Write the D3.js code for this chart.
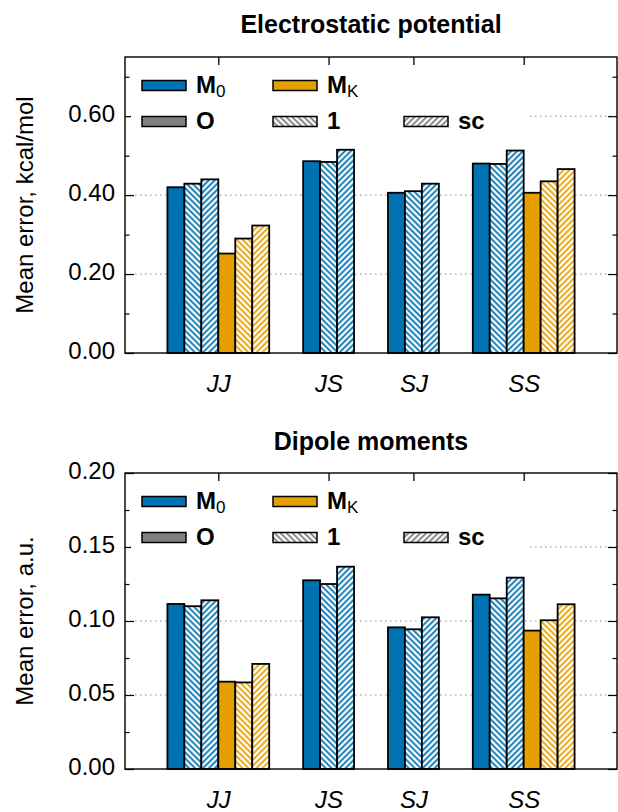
<!DOCTYPE html>
<html>
<head>
<meta charset="utf-8">
<script src="https://cdn.jsdelivr.net/npm/d3@7"></script>
<style>
  body { margin: 0; background: white; }
  text { font-family: "Liberation Sans", Arial, sans-serif; fill: black; }
</style>
</head>
<body>
<div id="chart"></div>
<script>

    // categories and series
    const categories = ["JJ", "JS", "SJ", "SS"];
    const seriesKeys = ["M0", "M0_1", "M0_sc", "MK", "MK_1", "MK_sc"];
    const legendNames = ["M0", "MK", "O", "1", "sc"];

    // Electrostatic potential (kcal/mol)
    const espM0 = [0.420, 0.486, 0.406, 0.480];
    const espM0_1 = [0.429, 0.484, 0.410, 0.479];
    const espM0_sc = [0.440, 0.515, 0.429, 0.513];
    const espMK = [0.252, null, null, 0.406];
    const espMK_1 = [0.290, null, null, 0.435];
    const espMK_sc = [0.323, null, null, 0.466];
    const espTicks = [0, 0.2, 0.4, 0.6];
    const espMinorTicks = [0.1, 0.3, 0.5, 0.7];
    const espMax = 0.75;

    // Dipole moments (a.u.)
    const dipM0 = [0.1115, 0.1275, 0.0957, 0.1178];
    const dipM0_1 = [0.1100, 0.1250, 0.0944, 0.1153];
    const dipM0_sc = [0.1140, 0.1367, 0.1025, 0.1293];
    const dipMK = [0.0590, null, null, 0.0935];
    const dipMK_1 = [0.0585, null, null, 0.1005];
    const dipMK_sc = [0.0710, null, null, 0.1113];
    const dipTicks = [0, 0.05, 0.10, 0.15, 0.20];
    const dipMinorTicks = [0.025, 0.075, 0.125, 0.175];
    const dipMax = 0.20;

    //Color Palette
    var blueColor = "#0072b2";
    var orangeColor = "#e69f00";
    var greyColor = "#808080";
    var hatchGrey = "#7a7a7a";
    var gridColor = "#8c8c8c";

    const W = 618, H = 812;
    const plotLeft = 125, plotRight = 617;

    const svg = d3.select("#chart")
      .append("svg")
      .attr("width", W)
      .attr("height", H);

    // hatch patterns
    const defs = svg.append("defs");
    function hatch(id, color, angle) {
      const s = 4.2;
      const p = defs.append("pattern")
        .attr("id", id)
        .attr("patternUnits", "userSpaceOnUse")
        .attr("width", s)
        .attr("height", s)
        .attr("patternTransform", `rotate(${angle})`);
      p.append("rect").attr("width", s).attr("height", s).attr("fill", "white");
      p.append("line")
        .attr("x1", s / 2).attr("x2", s / 2)
        .attr("y1", -1).attr("y2", s + 1)
        .attr("stroke", color)
        .attr("stroke-width", 1.8);
    }
    hatch("blue1", blueColor, -45);
    hatch("bluesc", blueColor, 45);
    hatch("orange1", orangeColor, -45);
    hatch("orangesc", orangeColor, 45);
    hatch("grey1", hatchGrey, -45);
    hatch("greysc", hatchGrey, 45);

    const seriesFill = [blueColor, "url(#blue1)", "url(#bluesc)", orangeColor, "url(#orange1)", "url(#orangesc)"];
    const legendFill = [blueColor, orangeColor, greyColor, "url(#grey1)", "url(#greysc)"];

    function drawPanel(cfg) {
      const top = cfg.top, bottom = cfg.bottom;

      // slot layout: bars side by side, two empty slots between groups
      const bars = [];
      const centers = [];
      let pos = 0;
      categories.forEach(function (cat, i) {
        let n = 0;
        cfg.values.forEach(function (vals, j) {
          if (vals[i] !== null) {
            bars.push({ cat: cat, series: j, slot: pos + n, value: vals[i] });
            n++;
          }
        });
        centers.push(pos + n / 2);
        pos += n + 2;
      });

      const x = d3.scaleLinear()
        .domain([-2.5, pos - 2 + 2.5])
        .range([plotLeft, plotRight]);

      const y = d3.scaleLinear()
        .domain([0, cfg.max])
        .range([bottom, top]);

      const g = svg.append("g");

      // title
      g.append("text")
        .attr("x", (plotLeft + plotRight) / 2)
        .attr("y", cfg.titleY)
        .attr("text-anchor", "middle")
        .style("font-weight", "bold")
        .style("font-size", "25px")
        .text(cfg.title);

      // y label
      g.append("text")
        .attr("transform", `translate(33,${(top + bottom) / 2}) rotate(-90)`)
        .attr("text-anchor", "middle")
        .style("font-size", "24px")
        .text(cfg.yLabel);

      // dotted grid
      g.append("g").selectAll("line")
        .data(cfg.ticks.filter(d => d > 0 && d < cfg.max))
        .enter()
        .append("line")
        .attr("x1", plotLeft)
        .attr("x2", plotRight)
        .attr("y1", d => y(d))
        .attr("y2", d => y(d))
        .attr("stroke", gridColor)
        .attr("stroke-width", 1)
        .attr("stroke-dasharray", "1.5,3.5");

      // bottom axis (ticks point in, labels below)
      const xb = g.append("g")
        .attr("transform", `translate(0,${bottom})`)
        .call(d3.axisBottom(x).tickValues(centers).tickSize(-8).tickPadding(22)
          .tickFormat((d, i) => categories[i]));
      xb.select(".domain").remove();
      xb.selectAll("line").attr("stroke", "#444").attr("stroke-width", 1);
      xb.selectAll("text")
        .style("font-size", "24px")
        .style("font-style", "italic")
        .attr("fill", "black");

      // bars
      g.append("g").selectAll("rect")
        .data(bars)
        .enter()
        .append("rect")
        .attr("x", d => x(d.slot))
        .attr("width", d => x(d.slot + 1) - x(d.slot))
        .attr("y", d => y(d.value))
        .attr("height", d => y(0) - y(d.value))
        .attr("fill", d => seriesFill[d.series])
        .attr("stroke", "black")
        .attr("stroke-width", 1.8);

      // top ticks
      const xt = g.append("g")
        .attr("transform", `translate(0,${top})`)
        .call(d3.axisTop(x).tickValues(centers).tickSize(-8).tickFormat(""));
      xt.select(".domain").remove();
      xt.selectAll("line").attr("stroke", "black").attr("stroke-width", 1.3);

      // left axis
      const yl = g.append("g")
        .attr("transform", `translate(${plotLeft},0)`)
        .call(d3.axisLeft(y).tickValues(cfg.ticks).tickSize(-9).tickPadding(10)
          .tickFormat(d3.format(".2f")));
      yl.select(".domain").remove();
      yl.selectAll("line").attr("stroke", "black").attr("stroke-width", 1.2);
      yl.selectAll("text")
        .attr("dy", "0.22em")
        .attr("fill", "black")
        .style("font-size", "24px");

      const ylm = g.append("g")
        .attr("transform", `translate(${plotLeft},0)`)
        .call(d3.axisLeft(y).tickValues(cfg.minor).tickSize(-4.5).tickFormat(""));
      ylm.select(".domain").remove();
      ylm.selectAll("line").attr("stroke", "black").attr("stroke-width", 1.2);

      // right axis (mirror ticks)
      const yr = g.append("g")
        .attr("transform", `translate(${plotRight},0)`)
        .call(d3.axisRight(y).tickValues(cfg.ticks).tickSize(-9).tickFormat(""));
      yr.select(".domain").remove();
      yr.selectAll("line").attr("stroke", "black").attr("stroke-width", 1.2);

      const yrm = g.append("g")
        .attr("transform", `translate(${plotRight},0)`)
        .call(d3.axisRight(y).tickValues(cfg.minor).tickSize(-4.5).tickFormat(""));
      yrm.select(".domain").remove();
      yrm.selectAll("line").attr("stroke", "black").attr("stroke-width", 1.2);

      // frame
      g.append("rect")
        .attr("x", plotLeft)
        .attr("y", top)
        .attr("width", plotRight - plotLeft)
        .attr("height", bottom - top)
        .attr("fill", "none")
        .attr("stroke", "black")
        .attr("stroke-width", 1.4);

      // legend with white box
      const lg = g.append("g");
      lg.append("rect")
        .attr("x", 131)
        .attr("y", top + 9)
        .attr("width", 527 - 131)
        .attr("height", 74)
        .attr("fill", "white");

      const legendCol = [142, 273, 404];
      const legendRow = [top + 28.5, top + 64.5];
      const legendPos = [[0, 0], [1, 0], [0, 1], [1, 1], [2, 1]];

      legendNames.forEach(function (name, i) {
        const lx = legendCol[legendPos[i][0]];
        const ly = legendRow[legendPos[i][1]];
        lg.append("rect")
          .attr("x", lx)
          .attr("y", ly - 5)
          .attr("width", 44)
          .attr("height", 10)
          .attr("fill", legendFill[i])
          .attr("stroke", "black")
          .attr("stroke-width", 1.5);
        const t = lg.append("text")
          .attr("x", lx + 54)
          .attr("y", ly + 7)
          .style("font-weight", "bold")
          .style("font-size", "24px");
        if (name.length === 2 && name[0] === "M") {
          t.append("tspan").text("M");
          t.append("tspan")
            .attr("dy", 4)
            .style("font-size", "17px")
            .style("font-weight", "normal")
            .text(name[1]);
        } else {
          t.text(name);
        }
      });
    }

    drawPanel({
      top: 57, bottom: 353, titleY: 33,
      title: "Electrostatic potential",
      yLabel: "Mean error, kcal/mol",
      values: [espM0, espM0_1, espM0_sc, espMK, espMK_1, espMK_sc],
      ticks: espTicks, minor: espMinorTicks, max: espMax
    });

    drawPanel({
      top: 473, bottom: 769, titleY: 450,
      title: "Dipole moments",
      yLabel: "Mean error, a.u.",
      values: [dipM0, dipM0_1, dipM0_sc, dipMK, dipMK_1, dipMK_sc],
      ticks: dipTicks, minor: dipMinorTicks, max: dipMax
    });

</script>
</body>
</html>
